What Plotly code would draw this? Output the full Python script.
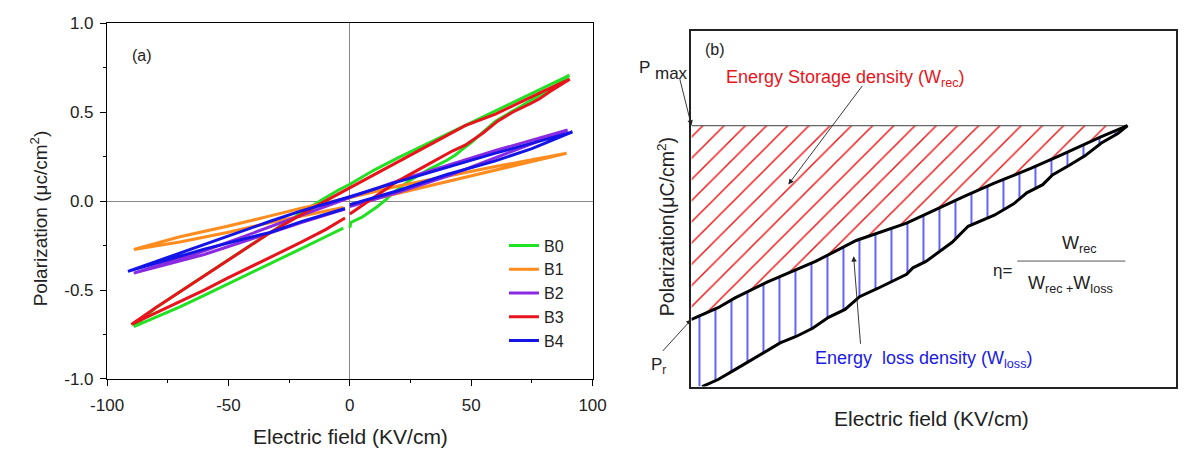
import plotly.graph_objects as go

W, H = 1190, 457
FONT = "Liberation Sans, Arial, sans-serif"

# ---------------- Panel (a): P-E loops ----------------
series_names = ["B0", "B1", "B2", "B3", "B4"]
series_colors = ["#22e022", "#ff8c1e", "#8a2be2", "#e8141c", "#1414e6"]

B0_E = [0, 0.4, 5, 11.4, 15, 18.1, 25, 32.8, 40, 43.5, 46.2, 50, 55, 60, 70, 80, 86, 90.4,
        80, 70, 60, 50, 40, 30, 20, 10, 0, -5, -12, -20, -30, -40, -50, -60, -70, -80, -89,
        -80, -70, -60, -50, -40, -30, -20, -10, -2.7]
B0_P = [-0.15, -0.12, -0.09, -0.03, 0.01, 0.05, 0.12, 0.18, 0.23, 0.26, 0.29, 0.33, 0.39, 0.45, 0.53, 0.61, 0.66, 0.708,
        0.64, 0.575, 0.51, 0.445, 0.38, 0.31, 0.245, 0.175, 0.095, 0.06, 0.004, -0.065, -0.15, -0.24, -0.33, -0.42, -0.51, -0.60, -0.705,
        -0.655, -0.595, -0.53, -0.465, -0.40, -0.333, -0.267, -0.20, -0.152]

B1_E = [0, 20, 40, 60, 89.3,
        60, 40, 20, 0, -20, -32.8, -50, -70, -89,
        -70, -50, -32.8, -20, -2.7]
B1_P = [-0.02, 0.045, 0.11, 0.172, 0.27,
        0.195, 0.14, 0.085, 0.02, -0.04, -0.083, -0.14, -0.20, -0.272,
        -0.23, -0.175, -0.12, -0.085, -0.036]

B2_E = [0, 20, 40, 60, 89.7,
        60, 40, 20, 0, -20, -40, -60, -89,
        -60, -40, -20, -2]
B2_P = [-0.03, 0.05, 0.14, 0.245, 0.40,
        0.285, 0.20, 0.115, 0.02, -0.08, -0.18, -0.28, -0.405,
        -0.30, -0.21, -0.12, -0.045]

B3_E = [0, 10, 19.4, 30, 42.2, 47.5, 55, 60.9, 67, 74.3, 78, 82.3, 87.7, 90.6,
        80, 70, 60, 47.5, 40, 30, 20, 10, 0, -10, -20, -32.8, -40, -50, -61, -70, -80, -90,
        -80, -70, -60, -50, -40, -32.8, -20, -10, -2]
B3_P = [-0.072, 0.02, 0.11, 0.19, 0.282, 0.315, 0.385, 0.45, 0.50, 0.548, 0.575, 0.615, 0.66, 0.686,
        0.62, 0.555, 0.49, 0.425, 0.37, 0.298, 0.225, 0.153, 0.08, 0.002, -0.076, -0.176, -0.241, -0.33, -0.43, -0.51, -0.60, -0.693,
        -0.63, -0.565, -0.50, -0.43, -0.365, -0.316, -0.23, -0.16, -0.095]

B4_E = [0, 20, 40, 59.6, 75, 91.7,
        80, 60, 40, 20, 0, -20, -32.8, -50, -70, -91.4,
        -80, -60, -40, -32.8, -20, -2]
B4_P = [-0.02, 0.06, 0.15, 0.225, 0.295, 0.39,
        0.345, 0.27, 0.19, 0.11, 0.025, -0.055, -0.113, -0.195, -0.29, -0.395,
        -0.35, -0.27, -0.20, -0.176, -0.115, -0.041]

series_E = [B0_E, B1_E, B2_E, B3_E, B4_E]
series_P = [B0_P, B1_P, B2_P, B3_P, B4_P]

x_tick_vals = [-100, -50, 0, 50, 100]
x_tick_text = ["-100", "-50", "0", "50", "100"]
x_minor_vals = [-75, -25, 25, 75]
y_tick_vals = [-1.0, -0.5, 0.0, 0.5, 1.0]
y_tick_text = ["-1.0", "-0.5", "0.0", "0.5", "1.0"]
y_minor_vals = [-0.75, -0.25, 0.25, 0.75]

# ---------------- Panel (b): schematic ----------------
b_up_E = [0.0, 0.055, 0.089, 0.156, 0.256, 0.340, 0.444, 0.564, 0.625, 0.699, 0.759, 0.846, 0.900]
b_up_P = [0.189, 0.222, 0.249, 0.294, 0.352, 0.411, 0.460, 0.536, 0.572, 0.613, 0.649, 0.703, 0.734]
b_lo_E = [0.022, 0.055, 0.089, 0.122, 0.183, 0.216, 0.250, 0.283, 0.317, 0.347, 0.384, 0.444, 0.457,
          0.484, 0.538, 0.571, 0.625, 0.665, 0.692, 0.725, 0.745, 0.779, 0.812, 0.846, 0.880, 0.900]
b_lo_P = [0.0, 0.020, 0.047, 0.074, 0.123, 0.141, 0.164, 0.195, 0.217, 0.253, 0.276, 0.316, 0.334,
          0.352, 0.406, 0.451, 0.482, 0.514, 0.545, 0.568, 0.595, 0.622, 0.649, 0.685, 0.712, 0.734]


def px(x):
    return x / W


def py(y):
    return 1 - y / H


fig = go.Figure()

for name, col, e, p in zip(series_names, series_colors, series_E, series_P):
    fig.add_trace(go.Scatter(x=e, y=p, mode="lines", name=name,
                             line=dict(color=col, width=3),
                             xaxis="x", yaxis="y", showlegend=True))

# panel b regions
p_max = b_up_P[-1]
red_x = b_up_E + [b_up_E[-1], b_up_E[0]]
red_y = b_up_P + [p_max, p_max]
fig.add_trace(go.Scatter(x=red_x, y=red_y, mode="lines", fill="toself",
                         fillcolor="rgba(0,0,0,0)", line=dict(width=0, color="rgba(0,0,0,0)"),
                         fillpattern=dict(shape="/", fgcolor="#ee1010", bgcolor="rgba(0,0,0,0)",
                                          fgopacity=1, size=15, solidity=0.095),
                         xaxis="x2", yaxis="y2", showlegend=False, hoverinfo="skip"))
blue_x = b_up_E + b_lo_E[::-1] + [b_up_E[0]]
blue_y = b_up_P + b_lo_P[::-1] + [b_lo_P[0]]
fig.add_trace(go.Scatter(x=blue_x, y=blue_y, mode="lines", fill="toself",
                         fillcolor="rgba(0,0,0,0)", line=dict(width=0, color="rgba(0,0,0,0)"),
                         fillpattern=dict(shape="|", fgcolor="#1818f0", bgcolor="rgba(0,0,0,0)",
                                          fgopacity=1, size=16, solidity=0.085),
                         xaxis="x2", yaxis="y2", showlegend=False, hoverinfo="skip"))
# Pmax line
fig.add_trace(go.Scatter(x=[b_up_E[0], b_up_E[-1]], y=[p_max, p_max], mode="lines",
                         line=dict(color="#666666", width=1.2),
                         xaxis="x2", yaxis="y2", showlegend=False, hoverinfo="skip"))
fig.add_trace(go.Scatter(x=b_up_E, y=b_up_P, mode="lines", line=dict(color="black", width=3),
                         xaxis="x2", yaxis="y2", showlegend=False))
fig.add_trace(go.Scatter(x=b_lo_E, y=b_lo_P, mode="lines", line=dict(color="black", width=3),
                         xaxis="x2", yaxis="y2", showlegend=False))

axis_a = dict(showline=True, linecolor="black", linewidth=1.3, mirror=True,
              ticks="outside", ticklen=6, tickwidth=1.2, tickcolor="black",
              showgrid=False, zeroline=True, zerolinecolor="#888888", zerolinewidth=1,
              tickfont=dict(family=FONT, size=17, color="#222"))

fig.update_layout(
    width=W, height=H, margin=dict(l=0, r=0, t=0, b=0),
    paper_bgcolor="white", plot_bgcolor="white",
    font=dict(family=FONT, color="black"),
    xaxis=dict(domain=[px(92.5), px(591)], range=[-100, 100], tickmode="array",
               tickvals=x_tick_vals, ticktext=x_tick_text, ticklabelstandoff=4,
               minor=dict(tickmode="array", tickvals=x_minor_vals, ticks="outside", ticklen=3,
                          tickcolor="black", tickwidth=1.2),
               anchor="y", **axis_a),
    yaxis=dict(domain=[py(386), py(15)], range=[-1, 1], tickmode="array",
               tickvals=y_tick_vals, ticktext=y_tick_text, ticklabelstandoff=3,
               minor=dict(tickmode="array", tickvals=y_minor_vals, ticks="outside", ticklen=3,
                          tickcolor="black", tickwidth=1.2),
               anchor="x", **axis_a),
    xaxis2=dict(domain=[px(692.5), 1.0], range=[0, 1], showline=True, linecolor="#222",
                linewidth=1.5, mirror=True, showticklabels=False, ticks="", showgrid=False,
                zeroline=False, anchor="y2"),
    yaxis2=dict(domain=[py(394), py(23)], range=[0, 1], showline=True, linecolor="#222",
                linewidth=1.5, mirror=True, showticklabels=False, ticks="", showgrid=False,
                zeroline=False, anchor="x2"),
    legend=dict(x=px(500), y=py(229), xanchor="left", yanchor="top",
                bgcolor="rgba(0,0,0,0)", font=dict(family=FONT, size=16, color="#222"),
                tracegroupgap=0, itemwidth=30),
    showlegend=True,
)

ann = []


def text(x, y, s, size=16, color="#222", angle=0, xanchor="center", yanchor="middle"):
    ann.append(dict(x=px(x), y=py(y), xref="paper", yref="paper", text=s, showarrow=False,
                    font=dict(family=FONT, size=size, color=color), textangle=angle,
                    xanchor=xanchor, yanchor=yanchor))


# panel a titles
text(342, 446, "Electric field (KV/cm)", size=21)
text(23, 218, "Polarization (μc/cm<sup>2</sup>)", size=19, angle=-90)
text(128, 48, "(a)", size=16)

# panel b titles and labels
text(939, 427, "Electric field (KV/cm)", size=21)
text(666, 227, "Polarization(μC/cm<sup>2</sup>)", size=19.5, angle=-90)
text(717, 42, "(b)", size=16)
text(644, 61, "P", size=17)
text(672, 67, "max", size=17)
text(659, 373, "P<sub>r</sub>", size=17)
text(851, 72, "Energy Storage density (W<sub>rec</sub>)", size=18, color="#e8141c")
text(931, 366, "Energy  loss density (W<sub>loss</sub>)", size=18, color="#1a1ae6")
text(1012, 273, "η=", size=17)
text(1091, 246, "W<sub>rec</sub>", size=18)
text(1082, 287, "W<sub>rec +</sub>W<sub>loss</sub>", size=18)

# arrows
def arrow(hx, hy, tx, ty, hxd=None, hyd=None):
    a = dict(text="", showarrow=True, arrowhead=2, arrowsize=1.2, arrowwidth=0.9,
             arrowcolor="#222", ax=tx - hx, ay=ty - hy)
    if hxd is None:
        a.update(x=px(hx), y=py(hy), xref="paper", yref="paper")
    else:
        a.update(x=hxd, y=hyd, xref="x2", yref="y2")
    ann.append(a)


arrow(691, 121, 679, 73, hxd=b_up_E[0], hyd=p_max)
arrow(690, 325, 660, 358, hxd=b_up_E[0], hyd=b_up_P[0])
arrow(792, 183, 867, 83)
arrow(859, 258, 866, 347)

fig.update_layout(annotations=ann)

# fraction bar
fig.add_shape(type="line", xref="paper", yref="paper", x0=px(1027), x1=px(1138),
              y0=py(263), y1=py(263), line=dict(color="#555", width=1))

fig.write_html("out.html")
